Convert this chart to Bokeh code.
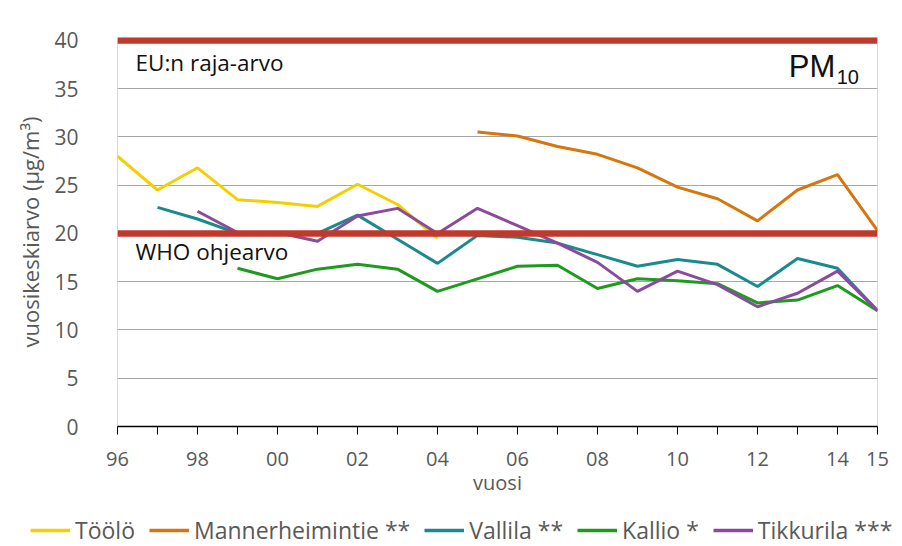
from bokeh.plotting import figure
from bokeh.layouts import column
from bokeh.models import (Range1d, FixedTicker, Span, Legend, LegendItem, Label)
from bokeh.embed import file_html
from bokeh.resources import INLINE

# ---- data ----
years = list(range(1996, 2016))
toolo_years = list(range(1996, 2005))
toolo = [28.0, 24.5, 26.8, 23.5, 23.2, 22.8, 25.1, 23.0, 19.5]
manner_years = list(range(2005, 2016))
manner = [30.5, 30.1, 29.0, 28.2, 26.8, 24.8, 23.6, 21.3, 24.5, 26.1, 20.3]
vallila_years = list(range(1997, 2016))
vallila = [22.7, 21.5, 20.0, 20.0, 20.0, 21.9, 19.4, 16.9, 19.8, 19.6, 19.0,
           17.8, 16.6, 17.3, 16.8, 14.5, 17.4, 16.4, 12.0]
kallio_years = list(range(1999, 2016))
kallio = [16.4, 15.3, 16.3, 16.8, 16.3, 14.0, 15.3, 16.6, 16.7, 14.3, 15.3,
          15.1, 14.8, 12.8, 13.1, 14.6, 12.0]
tikk_years = list(range(1998, 2016))
tikk = [22.3, 20.1, 20.1, 19.2, 21.8, 22.6, 20.0, 22.6, 20.8, 19.0, 17.0,
        14.0, 16.1, 14.7, 12.4, 13.8, 16.1, 12.0]

series_names = ["Töölö", "Mannerheimintie **", "Vallila **", "Kallio *", "Tikkurila ***"]
series_colors = ["#F2D000", "#D5760F", "#1B8A8E", "#1E9A1E", "#8A4A9E"]

EU_LIMIT = 40
WHO_LIMIT = 20
y_ticks = [0, 5, 10, 15, 20, 25, 30, 35, 40]
x_tick_labels = {y: ("%02d" % (y % 100)) if (y % 2 == 0 or y == 2015) else "" for y in years}

FONT = "Open Sans"

p = figure(frame_width=760, frame_height=389,
           x_range=Range1d(1996, 2015), y_range=Range1d(0, 40.3),
           output_backend="svg", toolbar_location=None,
           min_border_left=117, min_border_right=25, min_border_top=37,
           min_border_bottom=74)
p.outline_line_color = "#d9d9d9"
p.background_fill_color = "white"
p.border_fill_color = "white"

# grid
p.xgrid.grid_line_color = None
p.ygrid.ticker = FixedTicker(ticks=y_ticks)
p.ygrid.grid_line_color = "#a6a6a6"
p.ygrid.grid_line_width = 1.2

# y axis
p.yaxis.ticker = FixedTicker(ticks=y_ticks)
p.yaxis.axis_line_color = None
p.yaxis.major_tick_line_color = None
p.yaxis.minor_tick_line_color = None
p.yaxis.major_label_text_font = FONT
p.yaxis.major_label_text_font_size = "21px"
p.yaxis.major_label_text_color = "#595959"
p.yaxis.major_label_standoff = 33
p.yaxis.axis_label = "vuosikeskiarvo (µg/m³)"
p.yaxis.axis_label_text_font = FONT
p.yaxis.axis_label_text_font_size = "22px"
p.yaxis.axis_label_text_font_style = "normal"
p.yaxis.axis_label_text_color = "#595959"
p.yaxis.axis_label_standoff = 6

# x axis
p.xaxis.ticker = FixedTicker(ticks=years)
p.xaxis.major_label_overrides = x_tick_labels
p.xaxis.axis_line_color = "black"
p.xaxis.axis_line_width = 1.5
p.xaxis.major_tick_line_color = "black"
p.xaxis.major_tick_in = 0
p.xaxis.major_tick_out = 8
p.xaxis.minor_tick_line_color = None
p.xaxis.major_label_text_font = FONT
p.xaxis.major_label_text_font_size = "20px"
p.xaxis.major_label_text_color = "#595959"
p.xaxis.major_label_standoff = 17
p.xaxis.axis_label = "vuosi"
p.xaxis.axis_label_text_font = FONT
p.xaxis.axis_label_text_font_size = "20px"
p.xaxis.axis_label_text_font_style = "normal"
p.xaxis.axis_label_text_color = "#595959"
p.xaxis.axis_label_standoff = 0

# limit lines
p.add_layout(Span(location=WHO_LIMIT, dimension="width", line_color="#C0392B", line_width=6.5))
p.add_layout(Span(location=EU_LIMIT, dimension="width", line_color="#C0392B", line_width=6.5))

# series
data = [(toolo_years, toolo), (manner_years, manner), (vallila_years, vallila),
        (kallio_years, kallio), (tikk_years, tikk)]
for (xs, ys), col in zip(data, series_colors):
    p.line(xs, ys, line_color=col, line_width=3)

# annotations
p.add_layout(Label(x=1996.45, y=37.75, text="EU:n raja-arvo", text_font=FONT,
                   text_font_size="22.5px", text_baseline="middle", text_color="#111111"))
p.add_layout(Label(x=1996.45, y=18.1, text="WHO ohjearvo", text_font=FONT,
                   text_font_size="22.5px", text_baseline="middle", text_color="#111111"))
p.add_layout(Label(x=2012.78, y=37.3, text="PM", text_font="Liberation Sans",
                   text_font_size="31px", text_baseline="middle", text_color="#111111"))
p.add_layout(Label(x=2013.98, y=36.2, text="10", text_font="Liberation Sans",
                   text_font_size="20px", text_baseline="middle", text_color="#111111"))

# ---- legend strip below the chart (series drawn out of view, only legend shows) ----
lf = figure(width=902, height=46, x_range=Range1d(0, 1), y_range=Range1d(0, 1),
            output_backend="svg", toolbar_location=None, min_border=0)
lf.frame_align = False
lf.axis.visible = False
lf.grid.grid_line_color = None
lf.outline_line_color = None
items = []
for (xs, ys), name, col in zip(data, series_names, series_colors):
    r = lf.line(xs, ys, line_color=col, line_width=3.5)
    items.append(LegendItem(label=name, renderers=[r]))
legend = Legend(items=items, orientation="horizontal", location=(30, 0),
                label_text_font=FONT, label_text_font_size="23px",
                label_text_color="#595959", glyph_width=40, glyph_height=18,
                label_standoff=5, spacing=14, padding=0, margin=0,
                border_line_color=None, background_fill_alpha=0)
lf.add_layout(legend)

open("out.html", "w").write(file_html(column(p, lf, spacing=0), INLINE))
